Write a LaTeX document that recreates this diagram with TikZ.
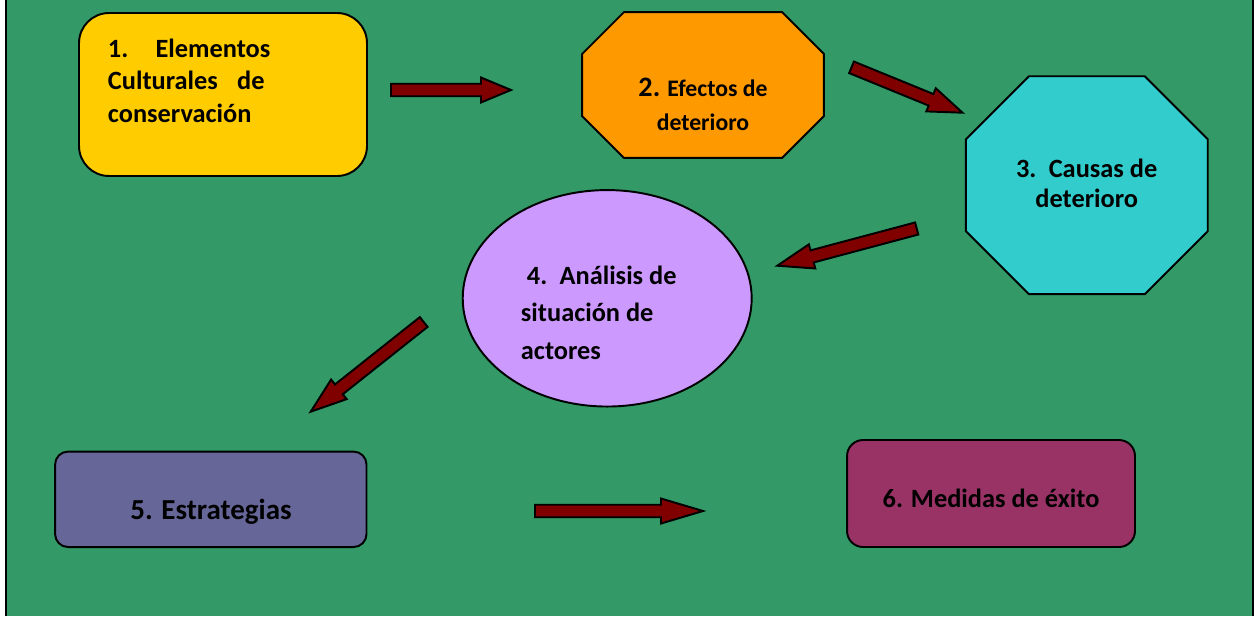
\documentclass[tikz,border=0pt]{standalone}
\usepackage{fontspec}
\setmainfont{Carlito}
\usepackage{xcolor}
\usetikzlibrary{calc}
\usetikzlibrary{shapes.geometric}
\definecolor{bgcol}{HTML}{339966}
\definecolor{yelcol}{HTML}{FFCC00}
\definecolor{orgcol}{HTML}{FF9900}
\definecolor{cyancol}{HTML}{33CCCC}
\definecolor{lilcol}{HTML}{CC99FF}
\definecolor{slatecol}{HTML}{666699}
\definecolor{plumcol}{HTML}{993366}
\definecolor{arrcol}{HTML}{800000}
\tikzset{blockarr/.style={draw=black, fill=arrcol, line width=1.1pt, line join=miter}}
% block arrow: [head length]{tail}{tip}
\newcommand{\blockarrow}[3][0.72cm]{%
  \coordinate (hb) at ($(#3)!#1!(#2)$);
  \draw[blockarr] ($(#2)!0.125cm!90:(#3)$) -- ($(hb)!0.125cm!90:(#3)$)
    -- ($(hb)!0.25cm!90:(#3)$) -- (#3) -- ($(hb)!0.25cm!-90:(#3)$)
    -- ($(hb)!0.125cm!-90:(#3)$) -- ($(#2)!0.125cm!-90:(#3)$) -- cycle;
}
% octagon round a node: {node}{chamfer}{fill}
\newcommand{\octagon}[3]{%
  \draw[fill=#3] ($(#1.north west)+(#2,0)$) -- ($(#1.north east)+(-#2,0)$)
    -- ($(#1.north east)+(0,#2)$) -- ($(#1.south east)+(0,-#2)$)
    -- ($(#1.south east)+(-#2,0)$) -- ($(#1.south west)+(#2,0)$)
    -- ($(#1.south west)+(0,-#2)$) -- ($(#1.north west)+(0,#2)$) -- cycle;
}

\begin{document}
\begin{tikzpicture}[x=0.02cm, y=-0.02cm, line width=1.1pt,
    box/.style={draw=black, inner sep=0pt},
    frame/.style={inner sep=0pt},
    txt/.style={inner sep=0pt, font=\bfseries\fontsize{15}{18.5}\selectfont}]
    \useasboundingbox (0,0) rectangle (1256,616);
    \fill[white] (0,0) rectangle (1256,616);
    \fill[bgcol] (6,0) rectangle (1253,616);
    \draw[line width=0.04cm] (6,0) -- (6,616) (1253,0) -- (1253,616);

    % Nodes
    \node[box, rounded corners=0.6cm, fill=yelcol, minimum width=5.76cm, minimum height=3.26cm] (box1) at (223,94.5) {};
    \node[txt, anchor=west, align=left] (txt1) at (107,80.5) {1.\hspace{15.5pt}Elementos\\Culturales\hspace{11pt}de\\conservación};

    \node[frame, minimum width=4.8cm, minimum height=2.88cm] (box2) at (703,85) {};
    \octagon{box2}{42}{orgcol}
    \node[txt, align=center, font=\bfseries\fontsize{13.5}{19.3}\selectfont] (txt2) at (703,104.7) {{\fontsize{16}{19.3}\selectfont 2.} Efectos de\\deterioro};

    \node[frame, minimum width=4.8cm, minimum height=4.32cm] (box3) at (1086.8,185.2) {};
    \octagon{box3}{63}{cyancol}
    \node[txt, align=center, font=\bfseries\fontsize{15}{17}\selectfont] (txt3) at (1086.7,183) {3.\hspace{7pt}Causas de\\deterioro};

    \node[box, ellipse, fill=lilcol, minimum width=5.78cm, minimum height=4.33cm] (box4) at (607.2,298.3) {};
    \node[txt, anchor=west, align=left, font=\bfseries\fontsize{15}{21.3}\selectfont] (txt4) at (520,312.5) {\hspace{3.4pt}4.\hspace{7pt}Análisis de\\situación de\\actores};

    \node[box, rounded corners=0.26cm, fill=slatecol, minimum width=6.23cm, minimum height=1.91cm] (box5) at (210.8,499.3) {};
    \node[txt, font=\bfseries\fontsize{16.5}{20}\selectfont] (txt5) at (211,511.7) {5. Estrategias};

    \node[box, rounded corners=0.32cm, fill=plumcol, minimum width=5.76cm, minimum height=2.14cm] (box6) at (991,493.5) {};
    \node[txt] (txt6) at (991,498) {6. Medidas de éxito};

    % Arrows
    \coordinate (a1s) at (391,90);     \coordinate (a1e) at (511,90);
    \coordinate (a2s) at (851.5,67.3); \coordinate (a2e) at (962.5,112.7);
    \coordinate (a3s) at (916.7,228.5);\coordinate (a3e) at (777.3,265.7);
    \coordinate (a4s) at (423.7,322);  \coordinate (a4e) at (310.7,411.7);
    \coordinate (a5s) at (535,511);    \coordinate (a5e) at (703,511);
    \blockarrow[0.6cm]{a1s}{a1e}
    \blockarrow[0.68cm]{a2s}{a2e}
    \blockarrow{a3s}{a3e}
    \blockarrow{a4s}{a4e}
    \blockarrow[0.84cm]{a5s}{a5e}
\end{tikzpicture}
\end{document}
